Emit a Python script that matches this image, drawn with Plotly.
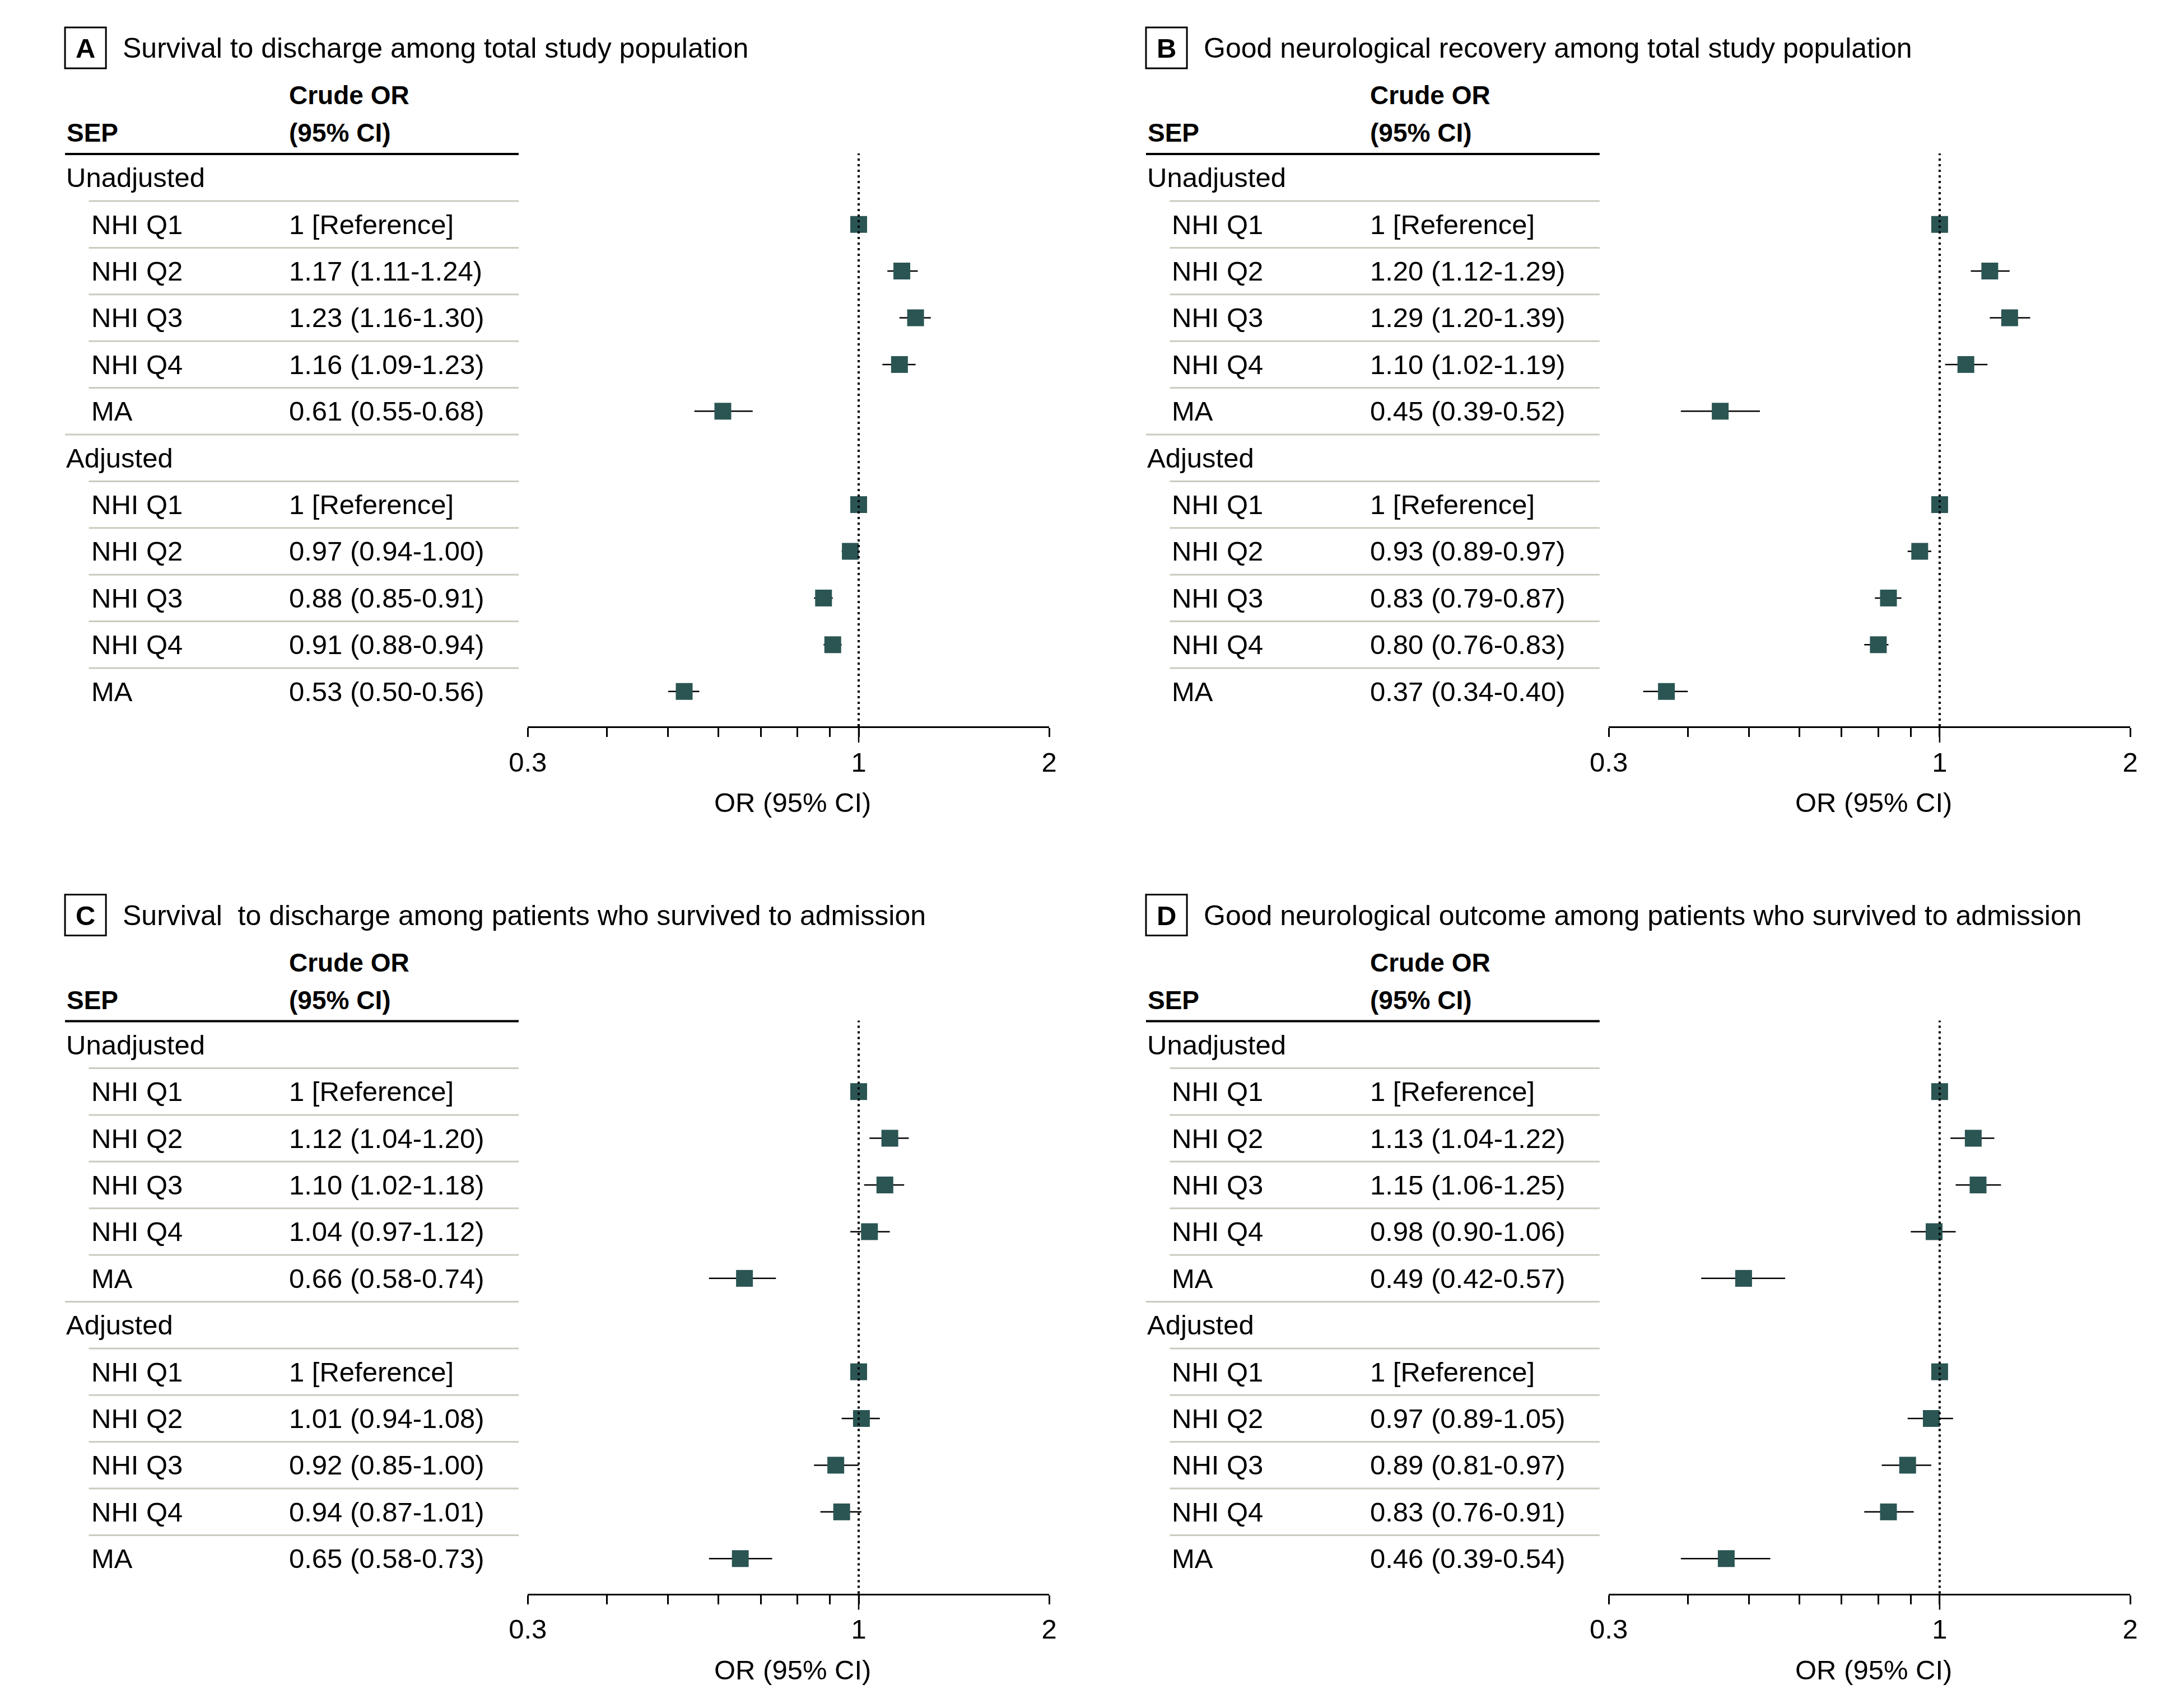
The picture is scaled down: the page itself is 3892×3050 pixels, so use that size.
import plotly.graph_objects as go

W, H = 3892, 3050

# %%
# Data
letters = ["A", "B", "C", "D"]
titles = [
    "Survival to discharge among total study population",
    "Good neurological recovery among total study population",
    "Survival\u00a0 to discharge among patients who survived to admission",
    "Good neurological outcome among patients who survived to admission",
]
groups = ["Unadjusted", "Adjusted"]
categories = ["NHI Q1", "NHI Q2", "NHI Q3", "NHI Q4", "MA"]

# order: Unadjusted Q1..MA, Adjusted Q1..MA  (Q1 is the reference)
or_a = [1, 1.17, 1.23, 1.16, 0.61, 1, 0.97, 0.88, 0.91, 0.53]
lo_a = [1, 1.11, 1.16, 1.09, 0.55, 1, 0.94, 0.85, 0.88, 0.50]
hi_a = [1, 1.24, 1.30, 1.23, 0.68, 1, 1.00, 0.91, 0.94, 0.56]

or_b = [1, 1.20, 1.29, 1.10, 0.45, 1, 0.93, 0.83, 0.80, 0.37]
lo_b = [1, 1.12, 1.20, 1.02, 0.39, 1, 0.89, 0.79, 0.76, 0.34]
hi_b = [1, 1.29, 1.39, 1.19, 0.52, 1, 0.97, 0.87, 0.83, 0.40]

or_c = [1, 1.12, 1.10, 1.04, 0.66, 1, 1.01, 0.92, 0.94, 0.65]
lo_c = [1, 1.04, 1.02, 0.97, 0.58, 1, 0.94, 0.85, 0.87, 0.58]
hi_c = [1, 1.20, 1.18, 1.12, 0.74, 1, 1.08, 1.00, 1.01, 0.73]

or_d = [1, 1.13, 1.15, 0.98, 0.49, 1, 0.97, 0.89, 0.83, 0.46]
lo_d = [1, 1.04, 1.06, 0.90, 0.42, 1, 0.89, 0.81, 0.76, 0.39]
hi_d = [1, 1.22, 1.25, 1.06, 0.57, 1, 1.05, 0.97, 0.91, 0.54]

tick_vals = [0.3, 0.4, 0.5, 0.6, 0.7, 0.8, 0.9, 1, 2]
tick_text = ["0.3", "", "", "", "", "", "", "1", "2"]

panels = [
    (or_a, lo_a, hi_a),
    (or_b, lo_b, hi_b),
    (or_c, lo_c, hi_c),
    (or_d, lo_d, hi_d),
]

# %%
# Layout geometry (pixels, page coordinates)
PAGE_MARGIN = 8  # default body margin of the html page
offsets = [(0, 0), (1954, 0), (0, 1548.5), (1954, 1548.5)]
row0 = 317.3
row_h = 83.4
axis_px = 1297
top_px = 274
x_left, x_right = 919.5, 1862
FONT = "Liberation Sans, Arial, sans-serif"
FS = 49
MARK = "#2A5553"
SEP_COLOR = "#C8CCBE"


def xp(px):
    return (px - PAGE_MARGIN) / W


def yp(px):
    return 1 - (px - PAGE_MARGIN) / H


# row index for the 12 table lines
data_rows = [1, 2, 3, 4, 5, 7, 8, 9, 10, 11]
group_rows = [0, 6]

fig = go.Figure()
annotations = []
shapes = []
layout = {}

for i, (est, lo, hi) in enumerate(panels):
    n = i + 1
    sfx = "" if n == 1 else str(n)
    dx, dy = offsets[i]
    xa, ya = "x" + sfx, "y" + sfx

    fig.add_trace(
        go.Scatter(
            x=est,
            y=data_rows,
            mode="markers",
            marker=dict(symbol="square", size=30, color=MARK, line=dict(width=0)),
            error_x=dict(
                type="data",
                symmetric=False,
                array=[h - e for h, e in zip(hi, est)],
                arrayminus=[e - l for e, l in zip(est, lo)],
                thickness=2.5,
                width=0,
                color="black",
            ),
            xaxis=xa,
            yaxis=ya,
            showlegend=False,
            hoverinfo="skip",
        )
    )

    layout["xaxis" + sfx] = dict(
        type="log",
        range=[-0.5228787, 0.30103],
        domain=[xp(x_left + dx), xp(x_right + dx)],
        anchor=ya,
        tickvals=tick_vals,
        ticktext=tick_text,
        ticks="outside",
        ticklen=16,
        tickwidth=2.5,
        tickcolor="black",
        showline=True,
        linecolor="black",
        linewidth=3,
        showgrid=False,
        zeroline=False,
        tickfont=dict(family=FONT, size=FS, color="black"),
        ticklabelstandoff=3,
    )
    layout["yaxis" + sfx] = dict(
        range=[(axis_px - row0) / row_h, (top_px - row0) / row_h],
        domain=[yp(axis_px + dy), yp(top_px + dy)],
        anchor=xa,
        visible=False,
        showgrid=False,
        zeroline=False,
    )

    # reference line at OR = 1
    shapes.append(dict(type="line", xref=xa, yref=ya + " domain", x0=1, x1=1, y0=0, y1=1,
                       line=dict(color="black", width=4, dash="4px,6px")))
    shapes.append(dict(type="line", xref=xa, yref=ya + " domain", x0=1, x1=1, y0=0,
                       y1=-29 / (axis_px - top_px), line=dict(color="black", width=2.5)))

    # letter box and title
    shapes.append(dict(type="rect", xref="paper", yref="paper",
                       x0=xp(83 + dx), x1=xp(157 + dx), y0=yp(49 + dy), y1=yp(122 + dy),
                       line=dict(color="black", width=3)))
    annotations.append(dict(text="<b>" + letters[i] + "</b>", xref="paper", yref="paper",
                            x=xp(120 + dx), y=yp(86 + dy), showarrow=False,
                            xanchor="center", yanchor="middle",
                            font=dict(family=FONT, size=FS, color="black")))
    annotations.append(dict(text=titles[i], xref="paper", yref="paper",
                            x=xp(185 + dx), y=yp(86 + dy), showarrow=False,
                            xanchor="left", yanchor="middle",
                            font=dict(family=FONT, size=50, color="black")))

    # table header
    for txt, x, y in [("Crude OR", 486, 170), ("(95% CI)", 486, 237), ("SEP", 84, 237)]:
        annotations.append(dict(text="<b>" + txt + "</b>", xref="paper", yref="paper",
                                x=xp(x + dx), y=yp(y + dy), showarrow=False,
                                xanchor="left", yanchor="middle",
                                font=dict(family=FONT, size=46, color="black")))
    shapes.append(dict(type="line", xref="paper", yref="paper",
                       x0=xp(83 + dx), x1=xp(903 + dx), y0=yp(275 + dy), y1=yp(275 + dy),
                       line=dict(color="black", width=4)))

    # table rows
    for g, r in zip(groups, group_rows):
        annotations.append(dict(text=g, xref="paper", yref=ya, x=xp(83 + dx), y=r,
                                showarrow=False, xanchor="left", yanchor="middle",
                                font=dict(family=FONT, size=FS, color="black")))
    for k, r in enumerate(data_rows):
        label = categories[k % 5]
        if est[k] == 1 and lo[k] == 1:
            val = "1 [Reference]"
        else:
            val = f"{est[k]:.2f} ({lo[k]:.2f}-{hi[k]:.2f})"
        annotations.append(dict(text=label, xref="paper", yref=ya, x=xp(128 + dx), y=r,
                                showarrow=False, xanchor="left", yanchor="middle",
                                font=dict(family=FONT, size=FS, color="black")))
        annotations.append(dict(text=val, xref="paper", yref=ya, x=xp(486 + dx), y=r,
                                showarrow=False, xanchor="left", yanchor="middle",
                                font=dict(family=FONT, size=FS, color="black")))

    # separators
    for r in range(1, 12):
        x0 = 83 if r in group_rows else 126
        shapes.append(dict(type="line", xref="paper", yref=ya, x0=xp(x0 + dx), x1=xp(903 + dx),
                           y0=r - 0.5, y1=r - 0.5, line=dict(color=SEP_COLOR, width=3)))

    # axis title
    annotations.append(dict(text="OR (95% CI)", xref="paper", yref="paper",
                            x=xp(1398 + dx), y=yp(1433 + dy), showarrow=False,
                            xanchor="center", yanchor="middle",
                            font=dict(family=FONT, size=FS, color="black")))

fig.update_layout(
    width=W,
    height=H,
    margin=dict(l=0, r=0, t=0, b=0),
    paper_bgcolor="white",
    plot_bgcolor="white",
    annotations=annotations,
    shapes=shapes,
    **layout,
)

fig.write_html("out.html")
